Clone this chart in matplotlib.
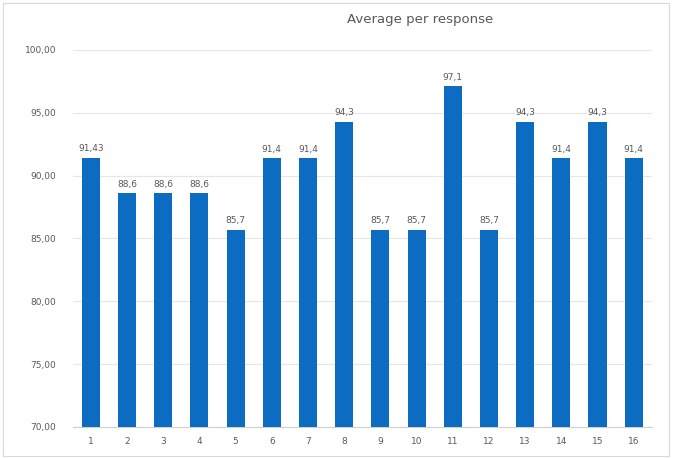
import matplotlib

matplotlib.use("Agg")
import matplotlib.pyplot as plt  # noqa: E402
from matplotlib.patches import Rectangle  # noqa: E402

# ---- data -----------------------------------------------------------------
categories = [str(i) for i in range(1, 17)]
values = [91.43, 88.6, 88.6, 88.6, 85.7, 91.4, 91.4, 94.3,
          85.7, 85.7, 97.1, 85.7, 94.3, 91.4, 94.3, 91.4]
labels = ["91,43", "88,6", "88,6", "88,6", "85,7", "91,4", "91,4", "94,3",
          "85,7", "85,7", "97,1", "85,7", "94,3", "91,4", "94,3", "91,4"]
yticks = [70, 75, 80, 85, 90, 95, 100]

BAR = "#0b6cc2"
TXT = "#595959"
GRID = "#e6e6e6"

fig = plt.figure(figsize=(6.74, 4.58), dpi=100)
fig.patches.append(Rectangle((0.004, 0.004), 0.988, 0.99, transform=fig.transFigure,
                             fill=False, ec="#d9d9d9", lw=0.8))
ax = fig.add_axes([0.108, 0.068, 0.859, 0.823])

x = list(range(len(categories)))
bars = ax.bar(x, values, width=0.5, color=BAR, zorder=3)
for b, lab in zip(bars, labels):
    ax.text(b.get_x() + b.get_width() / 2, b.get_height() + 0.35, lab,
            ha="center", va="bottom", fontsize=6.5, color=TXT)

ax.set_ylim(70, 100)
ax.set_xlim(-0.5, len(categories) - 0.5)
ax.set_yticks(yticks)
ax.set_yticklabels([f"{v:.2f}".replace(".", ",") for v in yticks])
ax.set_xticks(x)
ax.set_xticklabels(categories)
ax.tick_params(axis="both", length=0, labelsize=6.5, colors=TXT)
ax.tick_params(axis="y", pad=12)
ax.tick_params(axis="x", pad=7)
ax.yaxis.grid(True, color=GRID, lw=0.8, zorder=0)
for s in ("top", "right", "left"):
    ax.spines[s].set_visible(False)
ax.spines["bottom"].set_color("#d0d0d0")

fig.text(0.623, 0.957, "Average per response", ha="center", va="center",
         fontsize=9.5, color=TXT)

fig.savefig("out.png", dpi=100, facecolor="white")
